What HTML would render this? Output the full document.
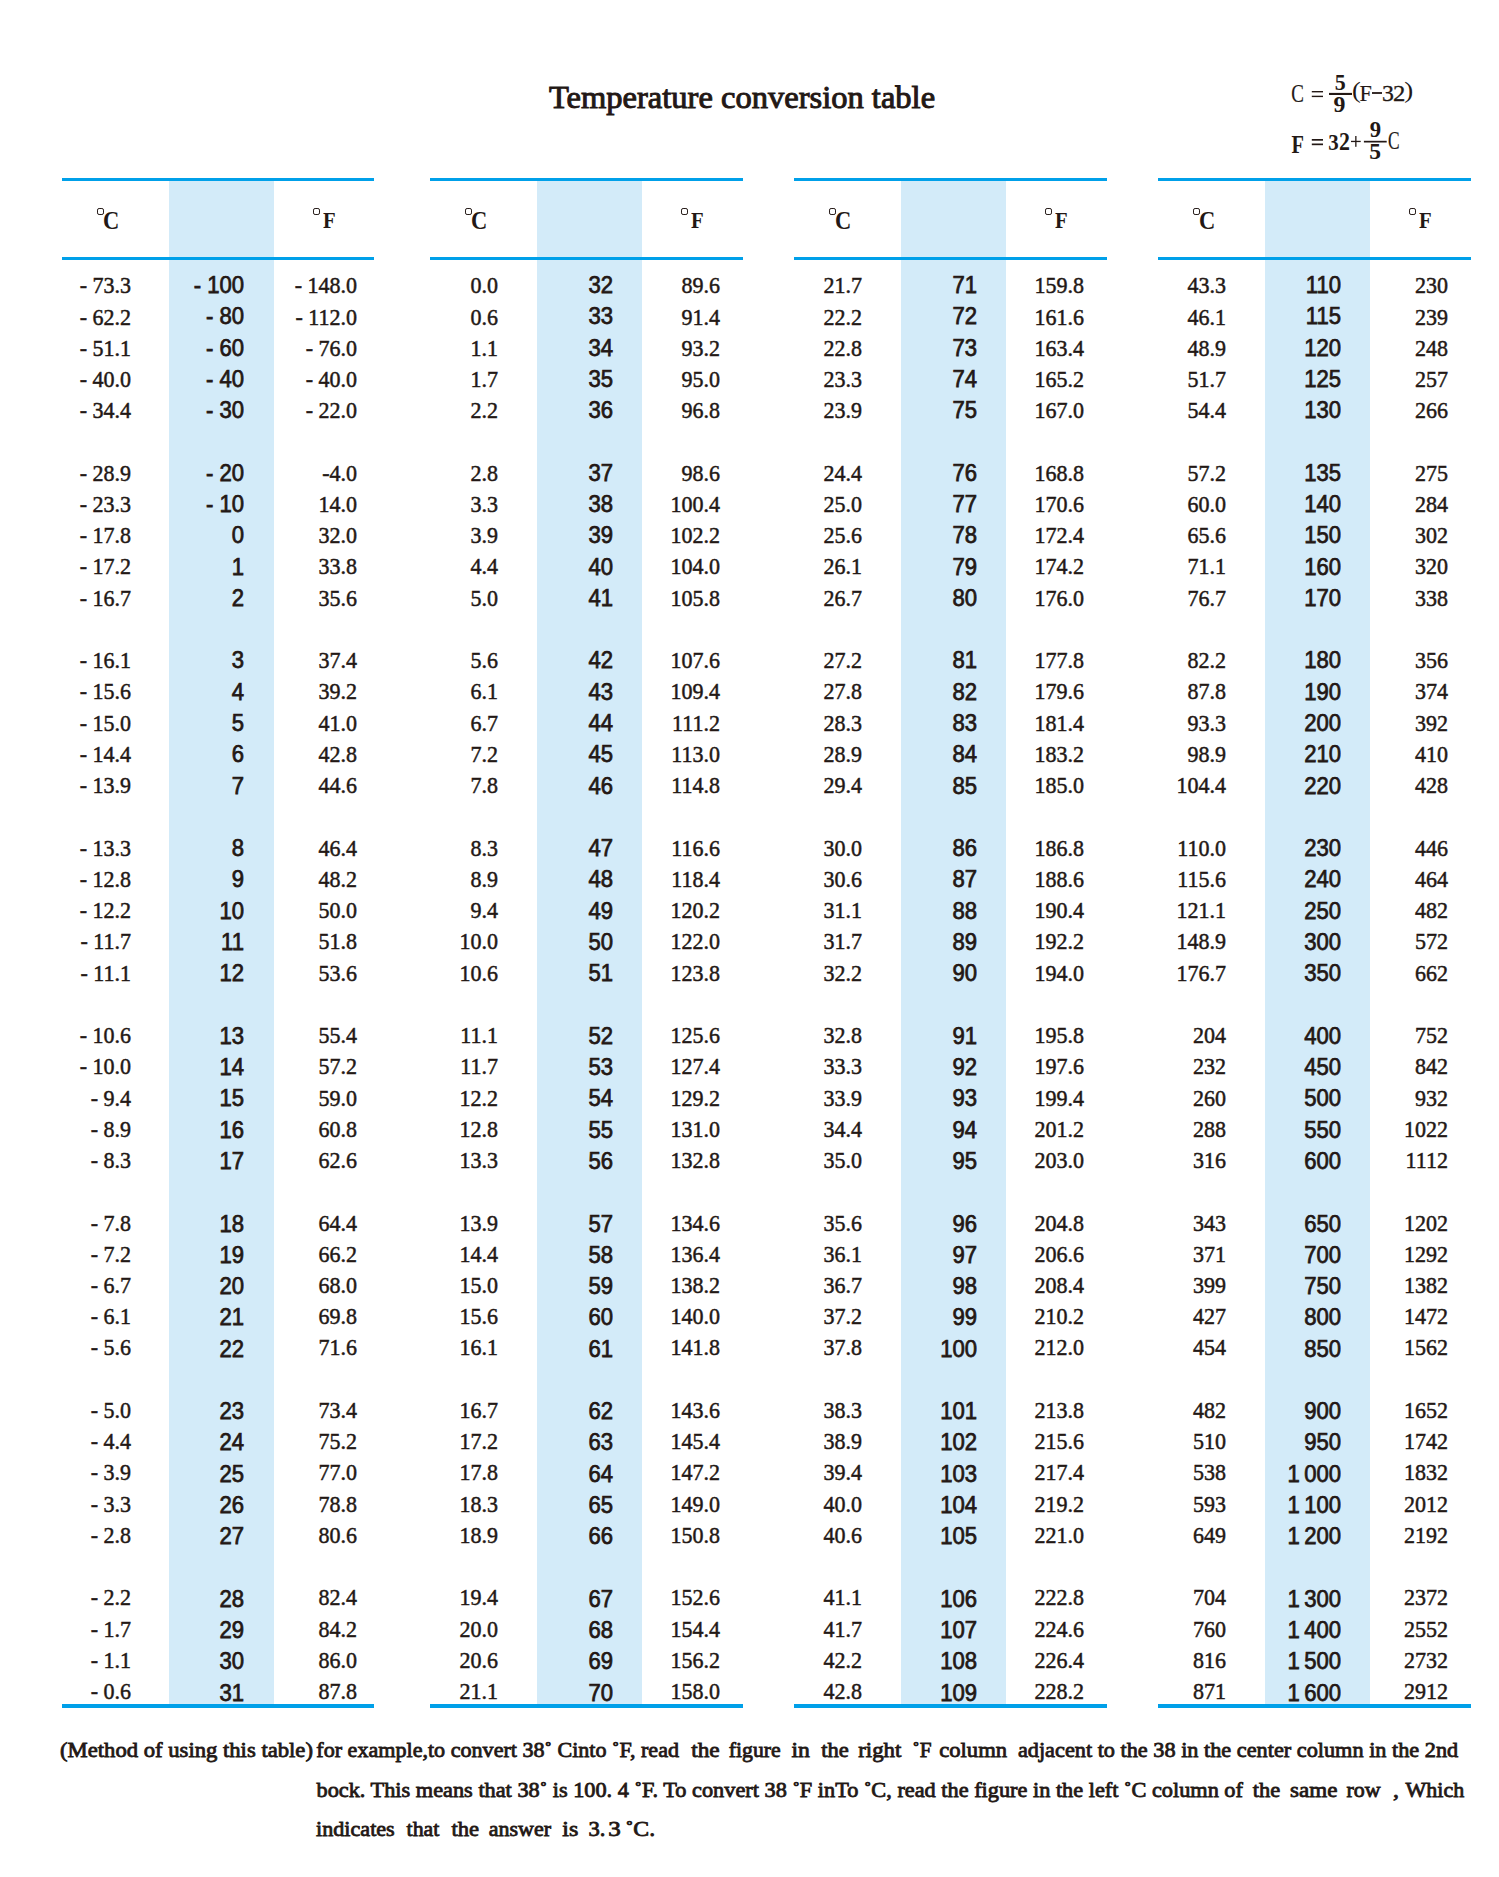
<!DOCTYPE html><html><head><meta charset="utf-8"><title>Temperature conversion table</title><style>
*{margin:0;padding:0;box-sizing:border-box}
html,body{width:1499px;height:1877px;background:#fff;overflow:hidden}
body{position:relative;color:#231815;font-family:"Liberation Serif",serif}
.ln{position:absolute;height:3px;background:#00a0e9}
.sh{position:absolute;background:#d3ebf9}
.t{position:absolute;white-space:nowrap;line-height:1;text-align:right}
.s{font-family:"Liberation Serif",serif;-webkit-text-stroke:0.5px #231815;font-size:24px;transform:scaleX(0.917);transform-origin:100% 0}
.m{font-family:"Liberation Sans",sans-serif;font-weight:normal;-webkit-text-stroke:0.75px #231815;font-size:23px;transform:scaleX(0.96);transform-origin:100% 0}
.hd{position:absolute;font-family:"Liberation Serif",serif;font-weight:bold;font-size:25px;line-height:1;transform:scaleX(0.9);transform-origin:0 0}
.dg{position:absolute;width:7px;height:7px;border:1.3px solid #231815;border-radius:30%}
</style></head><body>
<div class="sh" style="left:169px;top:181px;width:105px;height:1523px"></div>
<div class="ln" style="left:62px;top:178px;width:312px"></div>
<div class="ln" style="left:62px;top:257px;width:312px"></div>
<div class="ln" style="left:62px;top:1704px;width:312px;height:3.5px"></div>
<div class="sh" style="left:537px;top:181px;width:105px;height:1523px"></div>
<div class="ln" style="left:430px;top:178px;width:313px"></div>
<div class="ln" style="left:430px;top:257px;width:313px"></div>
<div class="ln" style="left:430px;top:1704px;width:313px;height:3.5px"></div>
<div class="sh" style="left:901px;top:181px;width:105px;height:1523px"></div>
<div class="ln" style="left:794px;top:178px;width:313px"></div>
<div class="ln" style="left:794px;top:257px;width:313px"></div>
<div class="ln" style="left:794px;top:1704px;width:313px;height:3.5px"></div>
<div class="sh" style="left:1265px;top:181px;width:105px;height:1523px"></div>
<div class="ln" style="left:1158px;top:178px;width:313px"></div>
<div class="ln" style="left:1158px;top:257px;width:313px"></div>
<div class="ln" style="left:1158px;top:1704px;width:313px;height:3.5px"></div>
<div class="dg" style="left:97px;top:208px"></div>
<div class="hd" style="left:102.5px;top:207.5px">C</div>
<div class="dg" style="left:313px;top:208px"></div>
<div class="hd" style="left:322.8px;top:209.4px;font-size:23px">F</div>
<div class="dg" style="left:465px;top:208px"></div>
<div class="hd" style="left:470.5px;top:207.5px">C</div>
<div class="dg" style="left:681px;top:208px"></div>
<div class="hd" style="left:690.8px;top:209.4px;font-size:23px">F</div>
<div class="dg" style="left:829px;top:208px"></div>
<div class="hd" style="left:834.5px;top:207.5px">C</div>
<div class="dg" style="left:1045px;top:208px"></div>
<div class="hd" style="left:1054.8px;top:209.4px;font-size:23px">F</div>
<div class="dg" style="left:1193px;top:208px"></div>
<div class="hd" style="left:1198.5px;top:207.5px">C</div>
<div class="dg" style="left:1409px;top:208px"></div>
<div class="hd" style="left:1418.8px;top:209.4px;font-size:23px">F</div>
<div class="t s" style="left:30.60px;top:273.30px;width:100px">- 73.3</div>
<div class="t m" style="left:144.30px;top:274.10px;width:100px">- 100</div>
<div class="t s" style="left:256.60px;top:273.30px;width:100px">- 148.0</div>
<div class="t s" style="left:30.60px;top:304.54px;width:100px">- 62.2</div>
<div class="t m" style="left:144.30px;top:305.38px;width:100px">- 80</div>
<div class="t s" style="left:256.60px;top:304.54px;width:100px">- 112.0</div>
<div class="t s" style="left:30.60px;top:335.78px;width:100px">- 51.1</div>
<div class="t m" style="left:144.30px;top:336.66px;width:100px">- 60</div>
<div class="t s" style="left:256.60px;top:335.78px;width:100px">- 76.0</div>
<div class="t s" style="left:30.60px;top:367.02px;width:100px">- 40.0</div>
<div class="t m" style="left:144.30px;top:367.94px;width:100px">- 40</div>
<div class="t s" style="left:256.60px;top:367.02px;width:100px">- 40.0</div>
<div class="t s" style="left:30.60px;top:398.26px;width:100px">- 34.4</div>
<div class="t m" style="left:144.30px;top:399.22px;width:100px">- 30</div>
<div class="t s" style="left:256.60px;top:398.26px;width:100px">- 22.0</div>
<div class="t s" style="left:30.60px;top:460.74px;width:100px">- 28.9</div>
<div class="t m" style="left:144.30px;top:461.78px;width:100px">- 20</div>
<div class="t s" style="left:256.60px;top:460.74px;width:100px">-4.0</div>
<div class="t s" style="left:30.60px;top:491.98px;width:100px">- 23.3</div>
<div class="t m" style="left:144.30px;top:493.06px;width:100px">- 10</div>
<div class="t s" style="left:256.60px;top:491.98px;width:100px">14.0</div>
<div class="t s" style="left:30.60px;top:523.22px;width:100px">- 17.8</div>
<div class="t m" style="left:144.30px;top:524.34px;width:100px">0</div>
<div class="t s" style="left:256.60px;top:523.22px;width:100px">32.0</div>
<div class="t s" style="left:30.60px;top:554.46px;width:100px">- 17.2</div>
<div class="t m" style="left:144.30px;top:555.62px;width:100px">1</div>
<div class="t s" style="left:256.60px;top:554.46px;width:100px">33.8</div>
<div class="t s" style="left:30.60px;top:585.70px;width:100px">- 16.7</div>
<div class="t m" style="left:144.30px;top:586.90px;width:100px">2</div>
<div class="t s" style="left:256.60px;top:585.70px;width:100px">35.6</div>
<div class="t s" style="left:30.60px;top:648.18px;width:100px">- 16.1</div>
<div class="t m" style="left:144.30px;top:649.46px;width:100px">3</div>
<div class="t s" style="left:256.60px;top:648.18px;width:100px">37.4</div>
<div class="t s" style="left:30.60px;top:679.42px;width:100px">- 15.6</div>
<div class="t m" style="left:144.30px;top:680.74px;width:100px">4</div>
<div class="t s" style="left:256.60px;top:679.42px;width:100px">39.2</div>
<div class="t s" style="left:30.60px;top:710.66px;width:100px">- 15.0</div>
<div class="t m" style="left:144.30px;top:712.02px;width:100px">5</div>
<div class="t s" style="left:256.60px;top:710.66px;width:100px">41.0</div>
<div class="t s" style="left:30.60px;top:741.90px;width:100px">- 14.4</div>
<div class="t m" style="left:144.30px;top:743.30px;width:100px">6</div>
<div class="t s" style="left:256.60px;top:741.90px;width:100px">42.8</div>
<div class="t s" style="left:30.60px;top:773.14px;width:100px">- 13.9</div>
<div class="t m" style="left:144.30px;top:774.58px;width:100px">7</div>
<div class="t s" style="left:256.60px;top:773.14px;width:100px">44.6</div>
<div class="t s" style="left:30.60px;top:835.62px;width:100px">- 13.3</div>
<div class="t m" style="left:144.30px;top:837.14px;width:100px">8</div>
<div class="t s" style="left:256.60px;top:835.62px;width:100px">46.4</div>
<div class="t s" style="left:30.60px;top:866.86px;width:100px">- 12.8</div>
<div class="t m" style="left:144.30px;top:868.42px;width:100px">9</div>
<div class="t s" style="left:256.60px;top:866.86px;width:100px">48.2</div>
<div class="t s" style="left:30.60px;top:898.10px;width:100px">- 12.2</div>
<div class="t m" style="left:144.30px;top:899.70px;width:100px">10</div>
<div class="t s" style="left:256.60px;top:898.10px;width:100px">50.0</div>
<div class="t s" style="left:30.60px;top:929.34px;width:100px">- 11.7</div>
<div class="t m" style="left:144.30px;top:930.98px;width:100px">11</div>
<div class="t s" style="left:256.60px;top:929.34px;width:100px">51.8</div>
<div class="t s" style="left:30.60px;top:960.58px;width:100px">- 11.1</div>
<div class="t m" style="left:144.30px;top:962.26px;width:100px">12</div>
<div class="t s" style="left:256.60px;top:960.58px;width:100px">53.6</div>
<div class="t s" style="left:30.60px;top:1023.06px;width:100px">- 10.6</div>
<div class="t m" style="left:144.30px;top:1024.82px;width:100px">13</div>
<div class="t s" style="left:256.60px;top:1023.06px;width:100px">55.4</div>
<div class="t s" style="left:30.60px;top:1054.30px;width:100px">- 10.0</div>
<div class="t m" style="left:144.30px;top:1056.10px;width:100px">14</div>
<div class="t s" style="left:256.60px;top:1054.30px;width:100px">57.2</div>
<div class="t s" style="left:30.60px;top:1085.54px;width:100px">- 9.4</div>
<div class="t m" style="left:144.30px;top:1087.38px;width:100px">15</div>
<div class="t s" style="left:256.60px;top:1085.54px;width:100px">59.0</div>
<div class="t s" style="left:30.60px;top:1116.78px;width:100px">- 8.9</div>
<div class="t m" style="left:144.30px;top:1118.66px;width:100px">16</div>
<div class="t s" style="left:256.60px;top:1116.78px;width:100px">60.8</div>
<div class="t s" style="left:30.60px;top:1148.02px;width:100px">- 8.3</div>
<div class="t m" style="left:144.30px;top:1149.94px;width:100px">17</div>
<div class="t s" style="left:256.60px;top:1148.02px;width:100px">62.6</div>
<div class="t s" style="left:30.60px;top:1210.50px;width:100px">- 7.8</div>
<div class="t m" style="left:144.30px;top:1212.50px;width:100px">18</div>
<div class="t s" style="left:256.60px;top:1210.50px;width:100px">64.4</div>
<div class="t s" style="left:30.60px;top:1241.74px;width:100px">- 7.2</div>
<div class="t m" style="left:144.30px;top:1243.78px;width:100px">19</div>
<div class="t s" style="left:256.60px;top:1241.74px;width:100px">66.2</div>
<div class="t s" style="left:30.60px;top:1272.98px;width:100px">- 6.7</div>
<div class="t m" style="left:144.30px;top:1275.06px;width:100px">20</div>
<div class="t s" style="left:256.60px;top:1272.98px;width:100px">68.0</div>
<div class="t s" style="left:30.60px;top:1304.22px;width:100px">- 6.1</div>
<div class="t m" style="left:144.30px;top:1306.34px;width:100px">21</div>
<div class="t s" style="left:256.60px;top:1304.22px;width:100px">69.8</div>
<div class="t s" style="left:30.60px;top:1335.46px;width:100px">- 5.6</div>
<div class="t m" style="left:144.30px;top:1337.62px;width:100px">22</div>
<div class="t s" style="left:256.60px;top:1335.46px;width:100px">71.6</div>
<div class="t s" style="left:30.60px;top:1397.94px;width:100px">- 5.0</div>
<div class="t m" style="left:144.30px;top:1400.18px;width:100px">23</div>
<div class="t s" style="left:256.60px;top:1397.94px;width:100px">73.4</div>
<div class="t s" style="left:30.60px;top:1429.18px;width:100px">- 4.4</div>
<div class="t m" style="left:144.30px;top:1431.46px;width:100px">24</div>
<div class="t s" style="left:256.60px;top:1429.18px;width:100px">75.2</div>
<div class="t s" style="left:30.60px;top:1460.42px;width:100px">- 3.9</div>
<div class="t m" style="left:144.30px;top:1462.74px;width:100px">25</div>
<div class="t s" style="left:256.60px;top:1460.42px;width:100px">77.0</div>
<div class="t s" style="left:30.60px;top:1491.66px;width:100px">- 3.3</div>
<div class="t m" style="left:144.30px;top:1494.02px;width:100px">26</div>
<div class="t s" style="left:256.60px;top:1491.66px;width:100px">78.8</div>
<div class="t s" style="left:30.60px;top:1522.90px;width:100px">- 2.8</div>
<div class="t m" style="left:144.30px;top:1525.30px;width:100px">27</div>
<div class="t s" style="left:256.60px;top:1522.90px;width:100px">80.6</div>
<div class="t s" style="left:30.60px;top:1585.38px;width:100px">- 2.2</div>
<div class="t m" style="left:144.30px;top:1587.86px;width:100px">28</div>
<div class="t s" style="left:256.60px;top:1585.38px;width:100px">82.4</div>
<div class="t s" style="left:30.60px;top:1616.62px;width:100px">- 1.7</div>
<div class="t m" style="left:144.30px;top:1619.14px;width:100px">29</div>
<div class="t s" style="left:256.60px;top:1616.62px;width:100px">84.2</div>
<div class="t s" style="left:30.60px;top:1647.86px;width:100px">- 1.1</div>
<div class="t m" style="left:144.30px;top:1650.42px;width:100px">30</div>
<div class="t s" style="left:256.60px;top:1647.86px;width:100px">86.0</div>
<div class="t s" style="left:30.60px;top:1679.10px;width:100px">- 0.6</div>
<div class="t m" style="left:144.30px;top:1681.70px;width:100px">31</div>
<div class="t s" style="left:256.60px;top:1679.10px;width:100px">87.8</div>
<div class="t s" style="left:397.80px;top:273.30px;width:100px">0.0</div>
<div class="t m" style="left:512.80px;top:274.10px;width:100px">32</div>
<div class="t s" style="left:619.90px;top:273.30px;width:100px">89.6</div>
<div class="t s" style="left:397.80px;top:304.54px;width:100px">0.6</div>
<div class="t m" style="left:512.80px;top:305.38px;width:100px">33</div>
<div class="t s" style="left:619.90px;top:304.54px;width:100px">91.4</div>
<div class="t s" style="left:397.80px;top:335.78px;width:100px">1.1</div>
<div class="t m" style="left:512.80px;top:336.66px;width:100px">34</div>
<div class="t s" style="left:619.90px;top:335.78px;width:100px">93.2</div>
<div class="t s" style="left:397.80px;top:367.02px;width:100px">1.7</div>
<div class="t m" style="left:512.80px;top:367.94px;width:100px">35</div>
<div class="t s" style="left:619.90px;top:367.02px;width:100px">95.0</div>
<div class="t s" style="left:397.80px;top:398.26px;width:100px">2.2</div>
<div class="t m" style="left:512.80px;top:399.22px;width:100px">36</div>
<div class="t s" style="left:619.90px;top:398.26px;width:100px">96.8</div>
<div class="t s" style="left:397.80px;top:460.74px;width:100px">2.8</div>
<div class="t m" style="left:512.80px;top:461.78px;width:100px">37</div>
<div class="t s" style="left:619.90px;top:460.74px;width:100px">98.6</div>
<div class="t s" style="left:397.80px;top:491.98px;width:100px">3.3</div>
<div class="t m" style="left:512.80px;top:493.06px;width:100px">38</div>
<div class="t s" style="left:619.90px;top:491.98px;width:100px">100.4</div>
<div class="t s" style="left:397.80px;top:523.22px;width:100px">3.9</div>
<div class="t m" style="left:512.80px;top:524.34px;width:100px">39</div>
<div class="t s" style="left:619.90px;top:523.22px;width:100px">102.2</div>
<div class="t s" style="left:397.80px;top:554.46px;width:100px">4.4</div>
<div class="t m" style="left:512.80px;top:555.62px;width:100px">40</div>
<div class="t s" style="left:619.90px;top:554.46px;width:100px">104.0</div>
<div class="t s" style="left:397.80px;top:585.70px;width:100px">5.0</div>
<div class="t m" style="left:512.80px;top:586.90px;width:100px">41</div>
<div class="t s" style="left:619.90px;top:585.70px;width:100px">105.8</div>
<div class="t s" style="left:397.80px;top:648.18px;width:100px">5.6</div>
<div class="t m" style="left:512.80px;top:649.46px;width:100px">42</div>
<div class="t s" style="left:619.90px;top:648.18px;width:100px">107.6</div>
<div class="t s" style="left:397.80px;top:679.42px;width:100px">6.1</div>
<div class="t m" style="left:512.80px;top:680.74px;width:100px">43</div>
<div class="t s" style="left:619.90px;top:679.42px;width:100px">109.4</div>
<div class="t s" style="left:397.80px;top:710.66px;width:100px">6.7</div>
<div class="t m" style="left:512.80px;top:712.02px;width:100px">44</div>
<div class="t s" style="left:619.90px;top:710.66px;width:100px">111.2</div>
<div class="t s" style="left:397.80px;top:741.90px;width:100px">7.2</div>
<div class="t m" style="left:512.80px;top:743.30px;width:100px">45</div>
<div class="t s" style="left:619.90px;top:741.90px;width:100px">113.0</div>
<div class="t s" style="left:397.80px;top:773.14px;width:100px">7.8</div>
<div class="t m" style="left:512.80px;top:774.58px;width:100px">46</div>
<div class="t s" style="left:619.90px;top:773.14px;width:100px">114.8</div>
<div class="t s" style="left:397.80px;top:835.62px;width:100px">8.3</div>
<div class="t m" style="left:512.80px;top:837.14px;width:100px">47</div>
<div class="t s" style="left:619.90px;top:835.62px;width:100px">116.6</div>
<div class="t s" style="left:397.80px;top:866.86px;width:100px">8.9</div>
<div class="t m" style="left:512.80px;top:868.42px;width:100px">48</div>
<div class="t s" style="left:619.90px;top:866.86px;width:100px">118.4</div>
<div class="t s" style="left:397.80px;top:898.10px;width:100px">9.4</div>
<div class="t m" style="left:512.80px;top:899.70px;width:100px">49</div>
<div class="t s" style="left:619.90px;top:898.10px;width:100px">120.2</div>
<div class="t s" style="left:397.80px;top:929.34px;width:100px">10.0</div>
<div class="t m" style="left:512.80px;top:930.98px;width:100px">50</div>
<div class="t s" style="left:619.90px;top:929.34px;width:100px">122.0</div>
<div class="t s" style="left:397.80px;top:960.58px;width:100px">10.6</div>
<div class="t m" style="left:512.80px;top:962.26px;width:100px">51</div>
<div class="t s" style="left:619.90px;top:960.58px;width:100px">123.8</div>
<div class="t s" style="left:397.80px;top:1023.06px;width:100px">11.1</div>
<div class="t m" style="left:512.80px;top:1024.82px;width:100px">52</div>
<div class="t s" style="left:619.90px;top:1023.06px;width:100px">125.6</div>
<div class="t s" style="left:397.80px;top:1054.30px;width:100px">11.7</div>
<div class="t m" style="left:512.80px;top:1056.10px;width:100px">53</div>
<div class="t s" style="left:619.90px;top:1054.30px;width:100px">127.4</div>
<div class="t s" style="left:397.80px;top:1085.54px;width:100px">12.2</div>
<div class="t m" style="left:512.80px;top:1087.38px;width:100px">54</div>
<div class="t s" style="left:619.90px;top:1085.54px;width:100px">129.2</div>
<div class="t s" style="left:397.80px;top:1116.78px;width:100px">12.8</div>
<div class="t m" style="left:512.80px;top:1118.66px;width:100px">55</div>
<div class="t s" style="left:619.90px;top:1116.78px;width:100px">131.0</div>
<div class="t s" style="left:397.80px;top:1148.02px;width:100px">13.3</div>
<div class="t m" style="left:512.80px;top:1149.94px;width:100px">56</div>
<div class="t s" style="left:619.90px;top:1148.02px;width:100px">132.8</div>
<div class="t s" style="left:397.80px;top:1210.50px;width:100px">13.9</div>
<div class="t m" style="left:512.80px;top:1212.50px;width:100px">57</div>
<div class="t s" style="left:619.90px;top:1210.50px;width:100px">134.6</div>
<div class="t s" style="left:397.80px;top:1241.74px;width:100px">14.4</div>
<div class="t m" style="left:512.80px;top:1243.78px;width:100px">58</div>
<div class="t s" style="left:619.90px;top:1241.74px;width:100px">136.4</div>
<div class="t s" style="left:397.80px;top:1272.98px;width:100px">15.0</div>
<div class="t m" style="left:512.80px;top:1275.06px;width:100px">59</div>
<div class="t s" style="left:619.90px;top:1272.98px;width:100px">138.2</div>
<div class="t s" style="left:397.80px;top:1304.22px;width:100px">15.6</div>
<div class="t m" style="left:512.80px;top:1306.34px;width:100px">60</div>
<div class="t s" style="left:619.90px;top:1304.22px;width:100px">140.0</div>
<div class="t s" style="left:397.80px;top:1335.46px;width:100px">16.1</div>
<div class="t m" style="left:512.80px;top:1337.62px;width:100px">61</div>
<div class="t s" style="left:619.90px;top:1335.46px;width:100px">141.8</div>
<div class="t s" style="left:397.80px;top:1397.94px;width:100px">16.7</div>
<div class="t m" style="left:512.80px;top:1400.18px;width:100px">62</div>
<div class="t s" style="left:619.90px;top:1397.94px;width:100px">143.6</div>
<div class="t s" style="left:397.80px;top:1429.18px;width:100px">17.2</div>
<div class="t m" style="left:512.80px;top:1431.46px;width:100px">63</div>
<div class="t s" style="left:619.90px;top:1429.18px;width:100px">145.4</div>
<div class="t s" style="left:397.80px;top:1460.42px;width:100px">17.8</div>
<div class="t m" style="left:512.80px;top:1462.74px;width:100px">64</div>
<div class="t s" style="left:619.90px;top:1460.42px;width:100px">147.2</div>
<div class="t s" style="left:397.80px;top:1491.66px;width:100px">18.3</div>
<div class="t m" style="left:512.80px;top:1494.02px;width:100px">65</div>
<div class="t s" style="left:619.90px;top:1491.66px;width:100px">149.0</div>
<div class="t s" style="left:397.80px;top:1522.90px;width:100px">18.9</div>
<div class="t m" style="left:512.80px;top:1525.30px;width:100px">66</div>
<div class="t s" style="left:619.90px;top:1522.90px;width:100px">150.8</div>
<div class="t s" style="left:397.80px;top:1585.38px;width:100px">19.4</div>
<div class="t m" style="left:512.80px;top:1587.86px;width:100px">67</div>
<div class="t s" style="left:619.90px;top:1585.38px;width:100px">152.6</div>
<div class="t s" style="left:397.80px;top:1616.62px;width:100px">20.0</div>
<div class="t m" style="left:512.80px;top:1619.14px;width:100px">68</div>
<div class="t s" style="left:619.90px;top:1616.62px;width:100px">154.4</div>
<div class="t s" style="left:397.80px;top:1647.86px;width:100px">20.6</div>
<div class="t m" style="left:512.80px;top:1650.42px;width:100px">69</div>
<div class="t s" style="left:619.90px;top:1647.86px;width:100px">156.2</div>
<div class="t s" style="left:397.80px;top:1679.10px;width:100px">21.1</div>
<div class="t m" style="left:512.80px;top:1681.70px;width:100px">70</div>
<div class="t s" style="left:619.90px;top:1679.10px;width:100px">158.0</div>
<div class="t s" style="left:761.80px;top:273.30px;width:100px">21.7</div>
<div class="t m" style="left:876.80px;top:274.10px;width:100px">71</div>
<div class="t s" style="left:983.90px;top:273.30px;width:100px">159.8</div>
<div class="t s" style="left:761.80px;top:304.54px;width:100px">22.2</div>
<div class="t m" style="left:876.80px;top:305.38px;width:100px">72</div>
<div class="t s" style="left:983.90px;top:304.54px;width:100px">161.6</div>
<div class="t s" style="left:761.80px;top:335.78px;width:100px">22.8</div>
<div class="t m" style="left:876.80px;top:336.66px;width:100px">73</div>
<div class="t s" style="left:983.90px;top:335.78px;width:100px">163.4</div>
<div class="t s" style="left:761.80px;top:367.02px;width:100px">23.3</div>
<div class="t m" style="left:876.80px;top:367.94px;width:100px">74</div>
<div class="t s" style="left:983.90px;top:367.02px;width:100px">165.2</div>
<div class="t s" style="left:761.80px;top:398.26px;width:100px">23.9</div>
<div class="t m" style="left:876.80px;top:399.22px;width:100px">75</div>
<div class="t s" style="left:983.90px;top:398.26px;width:100px">167.0</div>
<div class="t s" style="left:761.80px;top:460.74px;width:100px">24.4</div>
<div class="t m" style="left:876.80px;top:461.78px;width:100px">76</div>
<div class="t s" style="left:983.90px;top:460.74px;width:100px">168.8</div>
<div class="t s" style="left:761.80px;top:491.98px;width:100px">25.0</div>
<div class="t m" style="left:876.80px;top:493.06px;width:100px">77</div>
<div class="t s" style="left:983.90px;top:491.98px;width:100px">170.6</div>
<div class="t s" style="left:761.80px;top:523.22px;width:100px">25.6</div>
<div class="t m" style="left:876.80px;top:524.34px;width:100px">78</div>
<div class="t s" style="left:983.90px;top:523.22px;width:100px">172.4</div>
<div class="t s" style="left:761.80px;top:554.46px;width:100px">26.1</div>
<div class="t m" style="left:876.80px;top:555.62px;width:100px">79</div>
<div class="t s" style="left:983.90px;top:554.46px;width:100px">174.2</div>
<div class="t s" style="left:761.80px;top:585.70px;width:100px">26.7</div>
<div class="t m" style="left:876.80px;top:586.90px;width:100px">80</div>
<div class="t s" style="left:983.90px;top:585.70px;width:100px">176.0</div>
<div class="t s" style="left:761.80px;top:648.18px;width:100px">27.2</div>
<div class="t m" style="left:876.80px;top:649.46px;width:100px">81</div>
<div class="t s" style="left:983.90px;top:648.18px;width:100px">177.8</div>
<div class="t s" style="left:761.80px;top:679.42px;width:100px">27.8</div>
<div class="t m" style="left:876.80px;top:680.74px;width:100px">82</div>
<div class="t s" style="left:983.90px;top:679.42px;width:100px">179.6</div>
<div class="t s" style="left:761.80px;top:710.66px;width:100px">28.3</div>
<div class="t m" style="left:876.80px;top:712.02px;width:100px">83</div>
<div class="t s" style="left:983.90px;top:710.66px;width:100px">181.4</div>
<div class="t s" style="left:761.80px;top:741.90px;width:100px">28.9</div>
<div class="t m" style="left:876.80px;top:743.30px;width:100px">84</div>
<div class="t s" style="left:983.90px;top:741.90px;width:100px">183.2</div>
<div class="t s" style="left:761.80px;top:773.14px;width:100px">29.4</div>
<div class="t m" style="left:876.80px;top:774.58px;width:100px">85</div>
<div class="t s" style="left:983.90px;top:773.14px;width:100px">185.0</div>
<div class="t s" style="left:761.80px;top:835.62px;width:100px">30.0</div>
<div class="t m" style="left:876.80px;top:837.14px;width:100px">86</div>
<div class="t s" style="left:983.90px;top:835.62px;width:100px">186.8</div>
<div class="t s" style="left:761.80px;top:866.86px;width:100px">30.6</div>
<div class="t m" style="left:876.80px;top:868.42px;width:100px">87</div>
<div class="t s" style="left:983.90px;top:866.86px;width:100px">188.6</div>
<div class="t s" style="left:761.80px;top:898.10px;width:100px">31.1</div>
<div class="t m" style="left:876.80px;top:899.70px;width:100px">88</div>
<div class="t s" style="left:983.90px;top:898.10px;width:100px">190.4</div>
<div class="t s" style="left:761.80px;top:929.34px;width:100px">31.7</div>
<div class="t m" style="left:876.80px;top:930.98px;width:100px">89</div>
<div class="t s" style="left:983.90px;top:929.34px;width:100px">192.2</div>
<div class="t s" style="left:761.80px;top:960.58px;width:100px">32.2</div>
<div class="t m" style="left:876.80px;top:962.26px;width:100px">90</div>
<div class="t s" style="left:983.90px;top:960.58px;width:100px">194.0</div>
<div class="t s" style="left:761.80px;top:1023.06px;width:100px">32.8</div>
<div class="t m" style="left:876.80px;top:1024.82px;width:100px">91</div>
<div class="t s" style="left:983.90px;top:1023.06px;width:100px">195.8</div>
<div class="t s" style="left:761.80px;top:1054.30px;width:100px">33.3</div>
<div class="t m" style="left:876.80px;top:1056.10px;width:100px">92</div>
<div class="t s" style="left:983.90px;top:1054.30px;width:100px">197.6</div>
<div class="t s" style="left:761.80px;top:1085.54px;width:100px">33.9</div>
<div class="t m" style="left:876.80px;top:1087.38px;width:100px">93</div>
<div class="t s" style="left:983.90px;top:1085.54px;width:100px">199.4</div>
<div class="t s" style="left:761.80px;top:1116.78px;width:100px">34.4</div>
<div class="t m" style="left:876.80px;top:1118.66px;width:100px">94</div>
<div class="t s" style="left:983.90px;top:1116.78px;width:100px">201.2</div>
<div class="t s" style="left:761.80px;top:1148.02px;width:100px">35.0</div>
<div class="t m" style="left:876.80px;top:1149.94px;width:100px">95</div>
<div class="t s" style="left:983.90px;top:1148.02px;width:100px">203.0</div>
<div class="t s" style="left:761.80px;top:1210.50px;width:100px">35.6</div>
<div class="t m" style="left:876.80px;top:1212.50px;width:100px">96</div>
<div class="t s" style="left:983.90px;top:1210.50px;width:100px">204.8</div>
<div class="t s" style="left:761.80px;top:1241.74px;width:100px">36.1</div>
<div class="t m" style="left:876.80px;top:1243.78px;width:100px">97</div>
<div class="t s" style="left:983.90px;top:1241.74px;width:100px">206.6</div>
<div class="t s" style="left:761.80px;top:1272.98px;width:100px">36.7</div>
<div class="t m" style="left:876.80px;top:1275.06px;width:100px">98</div>
<div class="t s" style="left:983.90px;top:1272.98px;width:100px">208.4</div>
<div class="t s" style="left:761.80px;top:1304.22px;width:100px">37.2</div>
<div class="t m" style="left:876.80px;top:1306.34px;width:100px">99</div>
<div class="t s" style="left:983.90px;top:1304.22px;width:100px">210.2</div>
<div class="t s" style="left:761.80px;top:1335.46px;width:100px">37.8</div>
<div class="t m" style="left:876.80px;top:1337.62px;width:100px">100</div>
<div class="t s" style="left:983.90px;top:1335.46px;width:100px">212.0</div>
<div class="t s" style="left:761.80px;top:1397.94px;width:100px">38.3</div>
<div class="t m" style="left:876.80px;top:1400.18px;width:100px">101</div>
<div class="t s" style="left:983.90px;top:1397.94px;width:100px">213.8</div>
<div class="t s" style="left:761.80px;top:1429.18px;width:100px">38.9</div>
<div class="t m" style="left:876.80px;top:1431.46px;width:100px">102</div>
<div class="t s" style="left:983.90px;top:1429.18px;width:100px">215.6</div>
<div class="t s" style="left:761.80px;top:1460.42px;width:100px">39.4</div>
<div class="t m" style="left:876.80px;top:1462.74px;width:100px">103</div>
<div class="t s" style="left:983.90px;top:1460.42px;width:100px">217.4</div>
<div class="t s" style="left:761.80px;top:1491.66px;width:100px">40.0</div>
<div class="t m" style="left:876.80px;top:1494.02px;width:100px">104</div>
<div class="t s" style="left:983.90px;top:1491.66px;width:100px">219.2</div>
<div class="t s" style="left:761.80px;top:1522.90px;width:100px">40.6</div>
<div class="t m" style="left:876.80px;top:1525.30px;width:100px">105</div>
<div class="t s" style="left:983.90px;top:1522.90px;width:100px">221.0</div>
<div class="t s" style="left:761.80px;top:1585.38px;width:100px">41.1</div>
<div class="t m" style="left:876.80px;top:1587.86px;width:100px">106</div>
<div class="t s" style="left:983.90px;top:1585.38px;width:100px">222.8</div>
<div class="t s" style="left:761.80px;top:1616.62px;width:100px">41.7</div>
<div class="t m" style="left:876.80px;top:1619.14px;width:100px">107</div>
<div class="t s" style="left:983.90px;top:1616.62px;width:100px">224.6</div>
<div class="t s" style="left:761.80px;top:1647.86px;width:100px">42.2</div>
<div class="t m" style="left:876.80px;top:1650.42px;width:100px">108</div>
<div class="t s" style="left:983.90px;top:1647.86px;width:100px">226.4</div>
<div class="t s" style="left:761.80px;top:1679.10px;width:100px">42.8</div>
<div class="t m" style="left:876.80px;top:1681.70px;width:100px">109</div>
<div class="t s" style="left:983.90px;top:1679.10px;width:100px">228.2</div>
<div class="t s" style="left:1125.80px;top:273.30px;width:100px">43.3</div>
<div class="t m" style="left:1240.80px;top:274.10px;width:100px">110</div>
<div class="t s" style="left:1347.90px;top:273.30px;width:100px">230</div>
<div class="t s" style="left:1125.80px;top:304.54px;width:100px">46.1</div>
<div class="t m" style="left:1240.80px;top:305.38px;width:100px">115</div>
<div class="t s" style="left:1347.90px;top:304.54px;width:100px">239</div>
<div class="t s" style="left:1125.80px;top:335.78px;width:100px">48.9</div>
<div class="t m" style="left:1240.80px;top:336.66px;width:100px">120</div>
<div class="t s" style="left:1347.90px;top:335.78px;width:100px">248</div>
<div class="t s" style="left:1125.80px;top:367.02px;width:100px">51.7</div>
<div class="t m" style="left:1240.80px;top:367.94px;width:100px">125</div>
<div class="t s" style="left:1347.90px;top:367.02px;width:100px">257</div>
<div class="t s" style="left:1125.80px;top:398.26px;width:100px">54.4</div>
<div class="t m" style="left:1240.80px;top:399.22px;width:100px">130</div>
<div class="t s" style="left:1347.90px;top:398.26px;width:100px">266</div>
<div class="t s" style="left:1125.80px;top:460.74px;width:100px">57.2</div>
<div class="t m" style="left:1240.80px;top:461.78px;width:100px">135</div>
<div class="t s" style="left:1347.90px;top:460.74px;width:100px">275</div>
<div class="t s" style="left:1125.80px;top:491.98px;width:100px">60.0</div>
<div class="t m" style="left:1240.80px;top:493.06px;width:100px">140</div>
<div class="t s" style="left:1347.90px;top:491.98px;width:100px">284</div>
<div class="t s" style="left:1125.80px;top:523.22px;width:100px">65.6</div>
<div class="t m" style="left:1240.80px;top:524.34px;width:100px">150</div>
<div class="t s" style="left:1347.90px;top:523.22px;width:100px">302</div>
<div class="t s" style="left:1125.80px;top:554.46px;width:100px">71.1</div>
<div class="t m" style="left:1240.80px;top:555.62px;width:100px">160</div>
<div class="t s" style="left:1347.90px;top:554.46px;width:100px">320</div>
<div class="t s" style="left:1125.80px;top:585.70px;width:100px">76.7</div>
<div class="t m" style="left:1240.80px;top:586.90px;width:100px">170</div>
<div class="t s" style="left:1347.90px;top:585.70px;width:100px">338</div>
<div class="t s" style="left:1125.80px;top:648.18px;width:100px">82.2</div>
<div class="t m" style="left:1240.80px;top:649.46px;width:100px">180</div>
<div class="t s" style="left:1347.90px;top:648.18px;width:100px">356</div>
<div class="t s" style="left:1125.80px;top:679.42px;width:100px">87.8</div>
<div class="t m" style="left:1240.80px;top:680.74px;width:100px">190</div>
<div class="t s" style="left:1347.90px;top:679.42px;width:100px">374</div>
<div class="t s" style="left:1125.80px;top:710.66px;width:100px">93.3</div>
<div class="t m" style="left:1240.80px;top:712.02px;width:100px">200</div>
<div class="t s" style="left:1347.90px;top:710.66px;width:100px">392</div>
<div class="t s" style="left:1125.80px;top:741.90px;width:100px">98.9</div>
<div class="t m" style="left:1240.80px;top:743.30px;width:100px">210</div>
<div class="t s" style="left:1347.90px;top:741.90px;width:100px">410</div>
<div class="t s" style="left:1125.80px;top:773.14px;width:100px">104.4</div>
<div class="t m" style="left:1240.80px;top:774.58px;width:100px">220</div>
<div class="t s" style="left:1347.90px;top:773.14px;width:100px">428</div>
<div class="t s" style="left:1125.80px;top:835.62px;width:100px">110.0</div>
<div class="t m" style="left:1240.80px;top:837.14px;width:100px">230</div>
<div class="t s" style="left:1347.90px;top:835.62px;width:100px">446</div>
<div class="t s" style="left:1125.80px;top:866.86px;width:100px">115.6</div>
<div class="t m" style="left:1240.80px;top:868.42px;width:100px">240</div>
<div class="t s" style="left:1347.90px;top:866.86px;width:100px">464</div>
<div class="t s" style="left:1125.80px;top:898.10px;width:100px">121.1</div>
<div class="t m" style="left:1240.80px;top:899.70px;width:100px">250</div>
<div class="t s" style="left:1347.90px;top:898.10px;width:100px">482</div>
<div class="t s" style="left:1125.80px;top:929.34px;width:100px">148.9</div>
<div class="t m" style="left:1240.80px;top:930.98px;width:100px">300</div>
<div class="t s" style="left:1347.90px;top:929.34px;width:100px">572</div>
<div class="t s" style="left:1125.80px;top:960.58px;width:100px">176.7</div>
<div class="t m" style="left:1240.80px;top:962.26px;width:100px">350</div>
<div class="t s" style="left:1347.90px;top:960.58px;width:100px">662</div>
<div class="t s" style="left:1125.80px;top:1023.06px;width:100px">204</div>
<div class="t m" style="left:1240.80px;top:1024.82px;width:100px">400</div>
<div class="t s" style="left:1347.90px;top:1023.06px;width:100px">752</div>
<div class="t s" style="left:1125.80px;top:1054.30px;width:100px">232</div>
<div class="t m" style="left:1240.80px;top:1056.10px;width:100px">450</div>
<div class="t s" style="left:1347.90px;top:1054.30px;width:100px">842</div>
<div class="t s" style="left:1125.80px;top:1085.54px;width:100px">260</div>
<div class="t m" style="left:1240.80px;top:1087.38px;width:100px">500</div>
<div class="t s" style="left:1347.90px;top:1085.54px;width:100px">932</div>
<div class="t s" style="left:1125.80px;top:1116.78px;width:100px">288</div>
<div class="t m" style="left:1240.80px;top:1118.66px;width:100px">550</div>
<div class="t s" style="left:1347.90px;top:1116.78px;width:100px">1022</div>
<div class="t s" style="left:1125.80px;top:1148.02px;width:100px">316</div>
<div class="t m" style="left:1240.80px;top:1149.94px;width:100px">600</div>
<div class="t s" style="left:1347.90px;top:1148.02px;width:100px">1112</div>
<div class="t s" style="left:1125.80px;top:1210.50px;width:100px">343</div>
<div class="t m" style="left:1240.80px;top:1212.50px;width:100px">650</div>
<div class="t s" style="left:1347.90px;top:1210.50px;width:100px">1202</div>
<div class="t s" style="left:1125.80px;top:1241.74px;width:100px">371</div>
<div class="t m" style="left:1240.80px;top:1243.78px;width:100px">700</div>
<div class="t s" style="left:1347.90px;top:1241.74px;width:100px">1292</div>
<div class="t s" style="left:1125.80px;top:1272.98px;width:100px">399</div>
<div class="t m" style="left:1240.80px;top:1275.06px;width:100px">750</div>
<div class="t s" style="left:1347.90px;top:1272.98px;width:100px">1382</div>
<div class="t s" style="left:1125.80px;top:1304.22px;width:100px">427</div>
<div class="t m" style="left:1240.80px;top:1306.34px;width:100px">800</div>
<div class="t s" style="left:1347.90px;top:1304.22px;width:100px">1472</div>
<div class="t s" style="left:1125.80px;top:1335.46px;width:100px">454</div>
<div class="t m" style="left:1240.80px;top:1337.62px;width:100px">850</div>
<div class="t s" style="left:1347.90px;top:1335.46px;width:100px">1562</div>
<div class="t s" style="left:1125.80px;top:1397.94px;width:100px">482</div>
<div class="t m" style="left:1240.80px;top:1400.18px;width:100px">900</div>
<div class="t s" style="left:1347.90px;top:1397.94px;width:100px">1652</div>
<div class="t s" style="left:1125.80px;top:1429.18px;width:100px">510</div>
<div class="t m" style="left:1240.80px;top:1431.46px;width:100px">950</div>
<div class="t s" style="left:1347.90px;top:1429.18px;width:100px">1742</div>
<div class="t s" style="left:1125.80px;top:1460.42px;width:100px">538</div>
<div class="t m" style="left:1240.80px;top:1462.74px;width:100px">1 000</div>
<div class="t s" style="left:1347.90px;top:1460.42px;width:100px">1832</div>
<div class="t s" style="left:1125.80px;top:1491.66px;width:100px">593</div>
<div class="t m" style="left:1240.80px;top:1494.02px;width:100px">1 100</div>
<div class="t s" style="left:1347.90px;top:1491.66px;width:100px">2012</div>
<div class="t s" style="left:1125.80px;top:1522.90px;width:100px">649</div>
<div class="t m" style="left:1240.80px;top:1525.30px;width:100px">1 200</div>
<div class="t s" style="left:1347.90px;top:1522.90px;width:100px">2192</div>
<div class="t s" style="left:1125.80px;top:1585.38px;width:100px">704</div>
<div class="t m" style="left:1240.80px;top:1587.86px;width:100px">1 300</div>
<div class="t s" style="left:1347.90px;top:1585.38px;width:100px">2372</div>
<div class="t s" style="left:1125.80px;top:1616.62px;width:100px">760</div>
<div class="t m" style="left:1240.80px;top:1619.14px;width:100px">1 400</div>
<div class="t s" style="left:1347.90px;top:1616.62px;width:100px">2552</div>
<div class="t s" style="left:1125.80px;top:1647.86px;width:100px">816</div>
<div class="t m" style="left:1240.80px;top:1650.42px;width:100px">1 500</div>
<div class="t s" style="left:1347.90px;top:1647.86px;width:100px">2732</div>
<div class="t s" style="left:1125.80px;top:1679.10px;width:100px">871</div>
<div class="t m" style="left:1240.80px;top:1681.70px;width:100px">1 600</div>
<div class="t s" style="left:1347.90px;top:1679.10px;width:100px">2912</div>
<svg style="position:absolute;left:0;top:0" width="1499" height="1877" viewBox="0 0 1499 1877" fill="#231815"><rect x="1311.80" y="91.00" width="11.20" height="1.40"/><rect x="1311.80" y="95.70" width="11.20" height="1.40"/><rect x="1329.00" y="92.90" width="23.00" height="2.10"/><rect x="1372.00" y="92.10" width="10.00" height="1.80"/><rect x="1311.80" y="139.00" width="11.20" height="1.70"/><rect x="1311.80" y="143.50" width="11.20" height="1.70"/><rect x="1363.90" y="140.80" width="22.80" height="1.70"/><rect x="1351.00" y="140.80" width="9.70" height="1.30"/><rect x="1355.20" y="136.00" width="1.30" height="10.80"/>
<text x="549.01" y="107.95" font-family="Liberation Serif" font-weight="normal" font-size="32.60" textLength="386.09" lengthAdjust="spacingAndGlyphs" stroke="#231815" stroke-width="1.00">Temperature conversion table</text>
<text x="1291.24" y="102.46" font-family="Liberation Serif" font-weight="normal" font-size="24.48" textLength="12.64" lengthAdjust="spacingAndGlyphs" stroke="#231815" stroke-width="0.20">C</text>
<text x="1334.72" y="90.27" font-family="Liberation Serif" font-weight="bold" font-size="23.16" textLength="10.94" lengthAdjust="spacingAndGlyphs">5</text>
<text x="1333.40" y="112.26" font-family="Liberation Serif" font-weight="bold" font-size="23.73" textLength="11.93" lengthAdjust="spacingAndGlyphs">9</text>
<text x="1351.94" y="97.86" font-family="Liberation Serif" font-weight="normal" font-size="22.97" textLength="8.80" lengthAdjust="spacingAndGlyphs">(</text>
<text x="1359.44" y="100.80" font-family="Liberation Serif" font-weight="normal" font-size="24.12" textLength="12.36" lengthAdjust="spacingAndGlyphs" stroke="#231815" stroke-width="0.20">F</text>
<text x="1381.93" y="100.56" font-family="Liberation Serif" font-weight="normal" font-size="23.58" textLength="11.90" lengthAdjust="spacingAndGlyphs" stroke="#231815" stroke-width="0.30">3</text>
<text x="1393.01" y="100.80" font-family="Liberation Serif" font-weight="normal" font-size="23.94" textLength="12.35" lengthAdjust="spacingAndGlyphs" stroke="#231815" stroke-width="0.30">2</text>
<text x="1404.19" y="97.86" font-family="Liberation Serif" font-weight="normal" font-size="22.97" textLength="8.97" lengthAdjust="spacingAndGlyphs">)</text>
<text x="1291.49" y="152.80" font-family="Liberation Serif" font-weight="bold" font-size="24.43" textLength="12.44" lengthAdjust="spacingAndGlyphs">F</text>
<text x="1328.17" y="149.76" font-family="Liberation Serif" font-weight="bold" font-size="23.88" textLength="10.46" lengthAdjust="spacingAndGlyphs">3</text>
<text x="1338.92" y="150.00" font-family="Liberation Serif" font-weight="bold" font-size="24.24" textLength="10.95" lengthAdjust="spacingAndGlyphs">2</text>
<text x="1369.73" y="137.37" font-family="Liberation Serif" font-weight="bold" font-size="23.28" textLength="11.36" lengthAdjust="spacingAndGlyphs">9</text>
<text x="1369.36" y="159.37" font-family="Liberation Serif" font-weight="bold" font-size="23.46" textLength="11.76" lengthAdjust="spacingAndGlyphs">5</text>
<text x="1388.00" y="148.96" font-family="Liberation Serif" font-weight="normal" font-size="24.48" textLength="11.60" lengthAdjust="spacingAndGlyphs" stroke="#231815" stroke-width="0.20">C</text>
<text x="60.09" y="1756.50" font-family="Liberation Serif" font-weight="normal" font-size="21.50" textLength="252.88" lengthAdjust="spacingAndGlyphs" stroke="#231815" stroke-width="0.80">(Method of using this table)</text>
<text x="316.34" y="1756.50" font-family="Liberation Serif" font-weight="normal" font-size="21.50" textLength="362.68" lengthAdjust="spacingAndGlyphs" stroke="#231815" stroke-width="0.80">for example,to convert 38˚ Cinto ˚F, read</text>
<text x="691.28" y="1756.50" font-family="Liberation Serif" font-weight="normal" font-size="21.50" textLength="28.40" lengthAdjust="spacingAndGlyphs" stroke="#231815" stroke-width="0.80">the</text>
<text x="728.85" y="1756.50" font-family="Liberation Serif" font-weight="normal" font-size="21.50" textLength="51.89" lengthAdjust="spacingAndGlyphs" stroke="#231815" stroke-width="0.80">figure</text>
<text x="791.53" y="1756.50" font-family="Liberation Serif" font-weight="normal" font-size="21.50" textLength="18.43" lengthAdjust="spacingAndGlyphs" stroke="#231815" stroke-width="0.80">in</text>
<text x="821.19" y="1756.50" font-family="Liberation Serif" font-weight="normal" font-size="21.50" textLength="27.58" lengthAdjust="spacingAndGlyphs" stroke="#231815" stroke-width="0.80">the</text>
<text x="858.24" y="1756.50" font-family="Liberation Serif" font-weight="normal" font-size="21.50" textLength="43.12" lengthAdjust="spacingAndGlyphs" stroke="#231815" stroke-width="0.80">right</text>
<text x="912.62" y="1756.50" font-family="Liberation Serif" font-weight="normal" font-size="21.50" textLength="18.84" lengthAdjust="spacingAndGlyphs" stroke="#231815" stroke-width="0.80">˚F</text>
<text x="939.21" y="1756.50" font-family="Liberation Serif" font-weight="normal" font-size="21.50" textLength="67.83" lengthAdjust="spacingAndGlyphs" stroke="#231815" stroke-width="0.80">column</text>
<text x="1017.92" y="1756.50" font-family="Liberation Serif" font-weight="normal" font-size="21.50" textLength="440.30" lengthAdjust="spacingAndGlyphs" stroke="#231815" stroke-width="0.80">adjacent to the 38 in the center column in the 2nd</text>
<text x="316.50" y="1796.50" font-family="Liberation Serif" font-weight="normal" font-size="21.50" textLength="926.46" lengthAdjust="spacingAndGlyphs" stroke="#231815" stroke-width="0.80">bock. This means that 38˚ is 100. 4 ˚F. To convert 38 ˚F inTo ˚C, read the figure in the left ˚C column of</text>
<text x="1252.89" y="1796.50" font-family="Liberation Serif" font-weight="normal" font-size="21.50" textLength="27.47" lengthAdjust="spacingAndGlyphs" stroke="#231815" stroke-width="0.80">the</text>
<text x="1290.08" y="1796.50" font-family="Liberation Serif" font-weight="normal" font-size="21.50" textLength="47.40" lengthAdjust="spacingAndGlyphs" stroke="#231815" stroke-width="0.80">same</text>
<text x="1346.56" y="1796.50" font-family="Liberation Serif" font-weight="normal" font-size="21.50" textLength="34.09" lengthAdjust="spacingAndGlyphs" stroke="#231815" stroke-width="0.80">row</text>
<text x="1392.96" y="1796.50" font-family="Liberation Serif" font-weight="normal" font-size="21.50" textLength="5.97" lengthAdjust="spacingAndGlyphs" stroke="#231815" stroke-width="0.80">,</text>
<text x="1405.50" y="1796.50" font-family="Liberation Serif" font-weight="normal" font-size="21.50" textLength="58.72" lengthAdjust="spacingAndGlyphs" stroke="#231815" stroke-width="0.80">Which</text>
<text x="316.06" y="1836.30" font-family="Liberation Serif" font-weight="normal" font-size="21.50" textLength="78.70" lengthAdjust="spacingAndGlyphs" stroke="#231815" stroke-width="0.80">indicates</text>
<text x="406.59" y="1836.30" font-family="Liberation Serif" font-weight="normal" font-size="21.50" textLength="32.77" lengthAdjust="spacingAndGlyphs" stroke="#231815" stroke-width="0.80">that</text>
<text x="451.49" y="1836.30" font-family="Liberation Serif" font-weight="normal" font-size="21.50" textLength="27.58" lengthAdjust="spacingAndGlyphs" stroke="#231815" stroke-width="0.80">the</text>
<text x="488.73" y="1836.30" font-family="Liberation Serif" font-weight="normal" font-size="21.50" textLength="62.25" lengthAdjust="spacingAndGlyphs" stroke="#231815" stroke-width="0.80">answer</text>
<text x="562.32" y="1836.30" font-family="Liberation Serif" font-weight="normal" font-size="21.50" textLength="16.00" lengthAdjust="spacingAndGlyphs" stroke="#231815" stroke-width="0.80">is</text>
<text x="588.48" y="1836.30" font-family="Liberation Serif" font-weight="normal" font-size="21.50" textLength="16.99" lengthAdjust="spacingAndGlyphs" stroke="#231815" stroke-width="0.80">3.</text>
<text x="608.38" y="1836.30" font-family="Liberation Serif" font-weight="normal" font-size="21.50" textLength="12.50" lengthAdjust="spacingAndGlyphs" stroke="#231815" stroke-width="0.80">3</text>
<text x="625.46" y="1836.30" font-family="Liberation Serif" font-weight="normal" font-size="21.50" textLength="29.69" lengthAdjust="spacingAndGlyphs" stroke="#231815" stroke-width="0.80">˚C.</text></svg>

</body></html>
